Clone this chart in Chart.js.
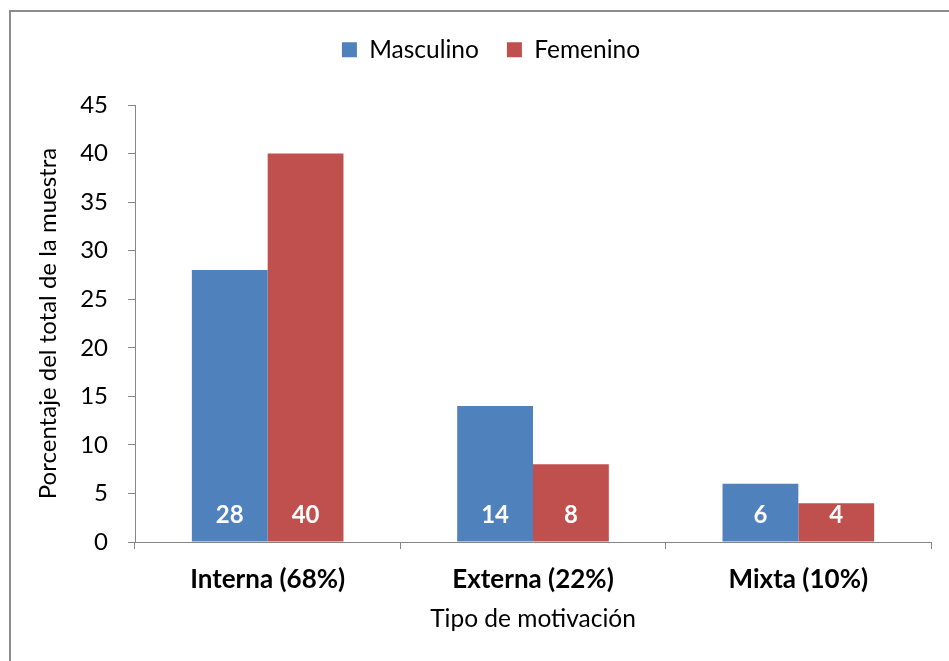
<!DOCTYPE html>
<html>
<head>
<meta charset="utf-8">
<script src="https://cdn.jsdelivr.net/npm/chart.js@4/dist/chart.umd.min.js"></script>
<style>
  html, body { margin: 0; padding: 0; background: #ffffff; }
  #wrap { width: 949px; height: 661px; position: relative; }
</style>
</head>
<body>
<div id="wrap"><canvas id="chart" width="949" height="661"></canvas></div>
<script>
// Motivation type by sex, as a percentage of the whole sample
const categories = ['Interna (68%)', 'Externa (22%)', 'Mixta (10%)'];
const seriesNames = ['Masculino', 'Femenino'];
const masculino = [28, 14, 6];
const femenino = [40, 8, 4];
const yMin = 0;
const yMax = 45;
const yStep = 5;
const yTitle = 'Porcentaje del total de la muestra';
const xTitle = 'Tipo de motivación';

const BLUE = '#4F81BD';
const RED = '#C0504D';
const AXIS = '#868686';
const FONT = 'Lato, Carlito, Calibri, "Noto Sans", sans-serif';

Chart.defaults.font.family = FONT;
Chart.defaults.color = '#000000';

// Outer frame of the chart (left and top edges)
const framePlugin = {
  id: 'frame',
  beforeDraw(chart) {
    const ctx = chart.ctx;
    ctx.save();
    ctx.strokeStyle = '#8c8c8c';
    ctx.lineWidth = 2;
    ctx.beginPath();
    ctx.moveTo(10, chart.height);
    ctx.lineTo(10, 11);
    ctx.lineTo(chart.width, 11);
    ctx.stroke();
    ctx.restore();
  }
};

// Value written inside the base of each bar
const barValuePlugin = {
  id: 'barValues',
  afterDatasetsDraw(chart) {
    const ctx = chart.ctx;
    ctx.save();
    ctx.fillStyle = '#ffffff';
    ctx.font = 'bold 24px ' + FONT;
    ctx.textAlign = 'center';
    ctx.textBaseline = 'alphabetic';
    chart.data.datasets.forEach((ds, di) => {
      const meta = chart.getDatasetMeta(di);
      meta.data.forEach((bar, i) => {
        ctx.fillText(String(ds.data[i]), bar.x, bar.base - 18.5);
      });
    });
    ctx.restore();
  }
};

new Chart(document.getElementById('chart'), {
  type: 'bar',
  data: {
    labels: categories,
    datasets: [
      { label: seriesNames[0], data: masculino, backgroundColor: BLUE, borderWidth: 0 },
      { label: seriesNames[1], data: femenino, backgroundColor: RED, borderWidth: 0 }
    ]
  },
  options: {
    responsive: false,
    animation: false,
    devicePixelRatio: 1,
    layout: { padding: { left: 33, right: 0, top: 9.5, bottom: 0 } },
    datasets: { bar: { categoryPercentage: 2 / 3.5, barPercentage: 1 } },
    plugins: {
      legend: {
        position: 'top',
        labels: {
          boxWidth: 15,
          boxHeight: 15,
          padding: 28,
          font: { size: 24.5 },
          color: '#000000'
        }
      },
      // empty spacer between the legend and the plot area
      subtitle: {
        display: true,
        text: '',
        position: 'top',
        weight: 500,
        font: { size: 10, lineHeight: 1 },
        padding: { top: 23, bottom: 0 }
      },
      tooltip: { enabled: false }
    },
    scales: {
      x: {
        offset: true,
        grid: { offset: true, drawOnChartArea: false, drawTicks: true, tickLength: 7, color: AXIS, lineWidth: 1 },
        border: { display: true, color: AXIS, width: 1 },
        ticks: { font: { size: 26, weight: 'bold' }, padding: 15, color: '#000000' },
        title: { display: true, text: xTitle, font: { size: 24.5 }, padding: { top: 0, bottom: 27 }, color: '#000000' },
        afterFit(scale) { scale.height = 119; scale.paddingRight = 18; }
      },
      y: {
        min: yMin,
        max: yMax,
        ticks: { stepSize: yStep, font: { size: 24 }, padding: 20, color: '#000000' },
        grid: { drawOnChartArea: false, drawTicks: true, tickLength: 7, color: AXIS, lineWidth: 1 },
        border: { display: true, color: AXIS, width: 1 },
        title: { display: true, text: yTitle, font: { size: 24 }, padding: { top: 0.6, bottom: 0 }, color: '#000000' },
        afterFit(scale) { scale.width = 102; }
      }
    }
  },
  plugins: [framePlugin, barValuePlugin]
});
</script>
</body>
</html>
